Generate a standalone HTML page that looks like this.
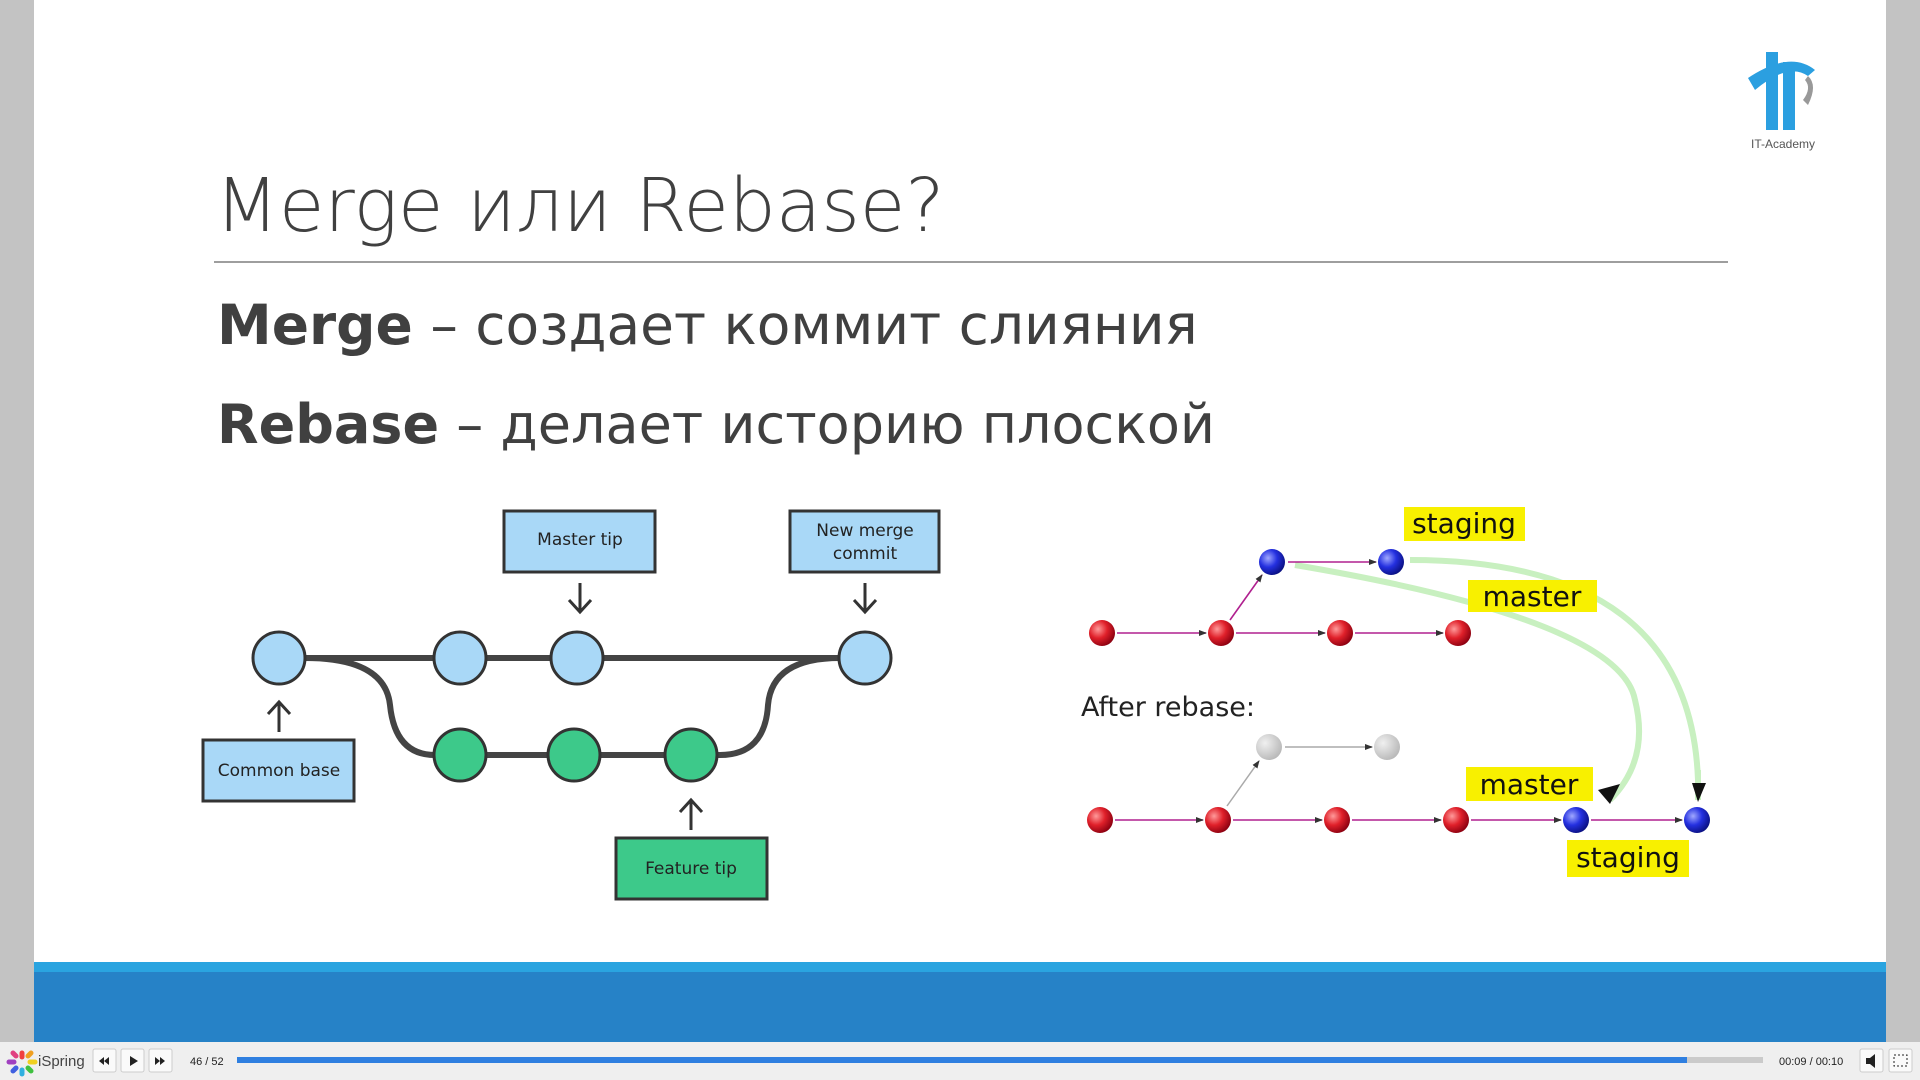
<!DOCTYPE html>
<html><head><meta charset="utf-8"><style>
html,body{margin:0;padding:0;width:1920px;height:1080px;overflow:hidden;background:#c3c3c3;font-family:"Liberation Sans",sans-serif}
.t{position:absolute;white-space:nowrap;color:#404040;font-family:"DejaVu Sans","Liberation Sans",sans-serif}
</style></head><body>
<svg width="1920" height="1080" style="position:absolute;left:0;top:0" xmlns="http://www.w3.org/2000/svg">
<defs>
<marker id="ah" markerWidth="8" markerHeight="8" refX="7" refY="4" orient="auto" markerUnits="userSpaceOnUse"><path d="M0,1 L8,4 L0,7 z" fill="#333"/></marker>
<radialGradient id="rr" cx="0.35" cy="0.35" r="0.7"><stop offset="0" stop-color="#ff9a9a"/><stop offset="0.5" stop-color="#e0202a"/><stop offset="1" stop-color="#8a0010"/></radialGradient>
<radialGradient id="bb" cx="0.35" cy="0.35" r="0.7"><stop offset="0" stop-color="#a0a8ff"/><stop offset="0.5" stop-color="#2430e0"/><stop offset="1" stop-color="#0a1080"/></radialGradient>
<radialGradient id="gg" cx="0.35" cy="0.35" r="0.7"><stop offset="0" stop-color="#f0f0f0"/><stop offset="1" stop-color="#b8b8b8"/></radialGradient>
</defs>
<rect x="34" y="0" width="1852" height="962" fill="#fff"/>
<rect x="34" y="962" width="1852" height="10" fill="#2aa4e0"/>
<rect x="34" y="972" width="1852" height="70" fill="#2682c7"/>
<rect x="0" y="1042" width="1920" height="38" fill="#efefef"/>
<line x1="214" y1="262" x2="1728" y2="262" stroke="#7f7f7f" stroke-width="1.5"/>
<!-- logo -->
<path d="M1748,78 Q1790,50 1815,70 L1808,76 Q1788,62 1755,90 z" fill="#2b9fe0"/>
<rect x="1766" y="52" width="12" height="78" fill="#2b9fe0"/>
<rect x="1783" y="62" width="12" height="68" fill="#2b9fe0"/>
<path d="M1808,76 Q1818,85 1808,105 L1803,100 Q1812,88 1805,80 z" fill="#999"/>
<text x="1783" y="148" font-size="12" fill="#555" text-anchor="middle" font-family="Liberation Sans">IT-Academy</text>
<!-- left diagram -->
<g stroke="#444" stroke-width="6" fill="none">
<line x1="279" y1="658" x2="865" y2="658"/>
<path d="M305,658 Q385,658 390,705 Q395,755 435,755 L720,755 Q765,755 768,705 Q772,658 840,658"/>
</g>
<g stroke="#333" stroke-width="3" fill="#a9d8f7">
<circle cx="279" cy="658" r="26"/><circle cx="460" cy="658" r="26"/><circle cx="577" cy="658" r="26"/><circle cx="865" cy="658" r="26"/>
</g>
<g stroke="#333" stroke-width="3" fill="#3dc98a">
<circle cx="460" cy="755" r="26"/><circle cx="574" cy="755" r="26"/><circle cx="691" cy="755" r="26"/>
</g>
<g stroke="#333" stroke-width="3" fill="#a9d8f7">
<rect x="504" y="511" width="151" height="61"/><rect x="790" y="511" width="149" height="61"/><rect x="203" y="740" width="151" height="61"/>
</g>
<rect x="616" y="838" width="151" height="61" stroke="#333" stroke-width="3" fill="#3dc98a"/>
<g stroke="#333" stroke-width="3" fill="none">
<path d="M580,583 V612 M569,600 L580,612 L591,600"/>
<path d="M865,583 V612 M854,600 L865,612 L876,600"/>
<path d="M279,732 V702 M268,714 L279,702 L290,714"/>
<path d="M691,830 V800 M680,812 L691,800 L702,812"/>
</g>
<g font-size="17" fill="#222" text-anchor="middle" font-family="DejaVu Sans,Liberation Sans">
<text x="580" y="545">Master tip</text>
<text x="865" y="536">New merge</text><text x="865" y="559">commit</text>
<text x="279" y="776">Common base</text>
<text x="691" y="874">Feature tip</text>
</g>
<!-- right diagram -->
<g stroke="#c8f0c0" stroke-width="6" fill="none">
<path d="M1410,560 Q1690,560 1698,780"/>
<path d="M1295,565 Q1620,620 1635,700 Q1650,760 1610,800"/>
</g>
<g stroke="#b0208f" stroke-width="1.6" fill="none" marker-end="url(#ah)">
<line x1="1117" y1="633" x2="1206" y2="633"/><line x1="1236" y1="633" x2="1325" y2="633"/><line x1="1355" y1="633" x2="1443" y2="633"/>
<line x1="1230" y1="620" x2="1262" y2="575"/><line x1="1288" y1="562" x2="1376" y2="562"/>
<line x1="1115" y1="820" x2="1203" y2="820"/><line x1="1233" y1="820" x2="1322" y2="820"/><line x1="1352" y1="820" x2="1441" y2="820"/>
<line x1="1471" y1="820" x2="1561" y2="820"/><line x1="1591" y1="820" x2="1682" y2="820"/>
</g>
<g stroke="#aaa" stroke-width="1.5" fill="none" marker-end="url(#ah)">
<line x1="1227" y1="806" x2="1259" y2="761"/><line x1="1285" y1="747" x2="1372" y2="747"/>
</g>
<path d="M1698,770 L1698,800" stroke="#c8f0c0" stroke-width="6"/>
<path d="M1692,783 L1698,802 L1706,783 z" fill="#111"/>
<path d="M1598,790 L1610,804 L1620,784 z" fill="#111"/>
<g fill="url(#rr)"><circle cx="1102" cy="633" r="13"/><circle cx="1221" cy="633" r="13"/><circle cx="1340" cy="633" r="13"/><circle cx="1458" cy="633" r="13"/>
<circle cx="1100" cy="820" r="13"/><circle cx="1218" cy="820" r="13"/><circle cx="1337" cy="820" r="13"/><circle cx="1456" cy="820" r="13"/></g>
<g fill="url(#bb)"><circle cx="1272" cy="562" r="13"/><circle cx="1391" cy="562" r="13"/><circle cx="1576" cy="820" r="13"/><circle cx="1697" cy="820" r="13"/></g>
<g fill="url(#gg)"><circle cx="1269" cy="747" r="13"/><circle cx="1387" cy="747" r="13"/></g>
<g fill="#f8f000"><rect x="1404" y="507" width="121" height="34"/><rect x="1468" y="580" width="129" height="32"/><rect x="1466" y="767" width="127" height="34"/><rect x="1567" y="840" width="122" height="37"/></g>
<g font-size="28" fill="#111" font-family="DejaVu Sans,Liberation Sans" text-anchor="middle">
<text x="1464" y="533">staging</text><text x="1532" y="606">master</text><text x="1529" y="794">master</text><text x="1628" y="867">staging</text>
</g>
<text x="1081" y="716" font-size="27" fill="#222" font-family="DejaVu Sans,Liberation Sans">After rebase:</text>
<!-- toolbar -->
<g stroke-width="5" stroke-linecap="round">
<line x1="22" y1="1053" x2="22" y2="1057" stroke="#f04040"/><line x1="28" y1="1056" x2="31" y2="1053" stroke="#f0a020"/>
<line x1="30" y1="1062" x2="35" y2="1062" stroke="#f0d020"/><line x1="28" y1="1068" x2="31" y2="1071" stroke="#40c040"/>
<line x1="22" y1="1070" x2="22" y2="1074" stroke="#30b0e0"/><line x1="16" y1="1068" x2="13" y2="1071" stroke="#4060e0"/>
<line x1="9" y1="1062" x2="14" y2="1062" stroke="#a040c0"/><line x1="16" y1="1056" x2="13" y2="1053" stroke="#e04080"/>
</g>
<text x="38" y="1066" font-size="15" fill="#444">iSpring</text>
<g fill="#fafafa" stroke="#ccc"><rect x="93" y="1049" width="23" height="23" rx="2"/><rect x="121" y="1049" width="23" height="23" rx="2"/><rect x="149" y="1049" width="23" height="23" rx="2"/>
<rect x="1860" y="1049" width="23" height="23" rx="2"/><rect x="1889" y="1049" width="23" height="23" rx="2"/></g>
<path d="M99,1061 l5,-4 v8z M104,1061 l5,-4 v8z M130,1056 l8,5 -8,5z M155,1057 l5,4 -5,4z M160,1057 l5,4 -5,4z M1866,1058 h4 l5,-4 v14 l-5,-4 h-4z" fill="#222"/>
<rect x="1894" y="1055" width="13" height="11" fill="none" stroke="#222" stroke-dasharray="2,2"/>
<text x="190" y="1065" font-size="11" fill="#222">46 / 52</text>
<rect x="237" y="1057" width="1526" height="6" fill="#cacaca"/>
<rect x="237" y="1057" width="1450" height="6" fill="#2f7fe0"/>
<text x="1779" y="1065" font-size="11" fill="#222">00:09 / 00:10</text>
</svg>
<div class="t" style="left:215px;top:163px;font-size:74px;font-weight:300;color:#404040">Merge или Rebase?</div>
<div class="t" style="left:217px;top:293px;font-size:55px"><b>Merge</b> – создает коммит слияния</div>
<div class="t" style="left:217px;top:393px;font-size:54px"><b>Rebase</b> – делает историю плоской</div>
</body></html>
